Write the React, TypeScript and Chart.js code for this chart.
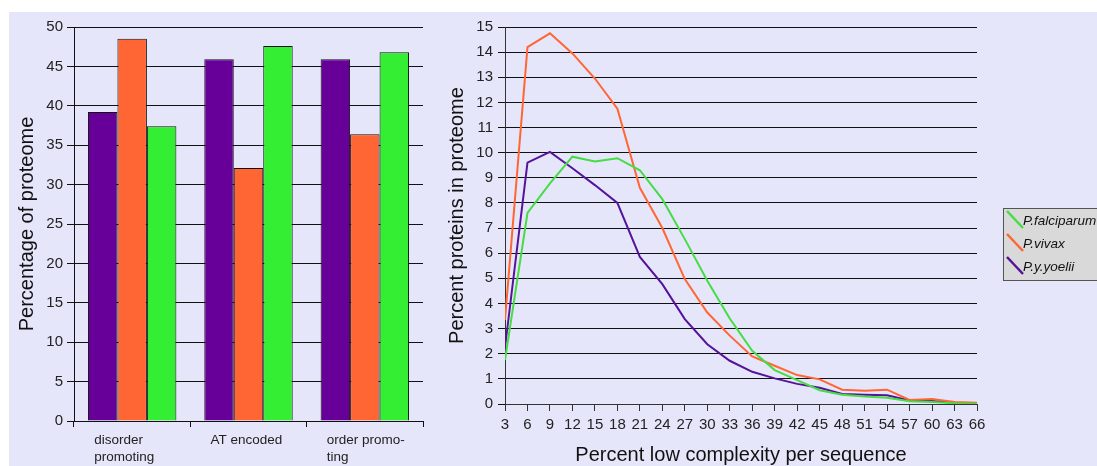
import React, { useEffect, useRef } from "react";
import { Chart, registerables } from "chart.js";

Chart.register(...registerables);

// ---- Composition of the proteome (left panel) ----
const groupLabels = [["disorder", "promoting"], ["AT encoded"], ["order promo-", "ting"]];
const yoeliiShare = [39.2, 45.9, 45.9];
const vivaxShare = [48.5, 32.1, 36.4];
const falciparumShare = [37.4, 47.6, 46.8];

// ---- Low complexity distribution (right panel) ----
const complexityPercent = [3, 6, 9, 12, 15, 18, 21, 24, 27, 30, 33, 36, 39, 42, 45, 48, 51, 54, 57, 60, 63, 66];
const falciparumProteins = [1.75, 7.6, 8.78, 9.84, 9.65, 9.78, 9.3, 8.15, 6.56, 4.9, 3.4, 2.12, 1.35, 0.95, 0.55, 0.37, 0.3, 0.25, 0.11, 0.08, 0.03, 0.01];
const vivaxProteins = [3.35, 14.2, 14.75, 13.95, 12.95, 11.75, 8.6, 7.0, 4.97, 3.64, 2.72, 1.89, 1.52, 1.15, 0.98, 0.57, 0.53, 0.57, 0.16, 0.2, 0.08, 0.05];
const yoeliiProteins = [2.25, 9.6, 10.03, 9.38, 8.71, 8.0, 5.85, 4.77, 3.38, 2.38, 1.72, 1.28, 1.02, 0.8, 0.65, 0.4, 0.37, 0.35, 0.14, 0.12, 0.05, 0.0];

const speciesNames = ["P.falciparum", "P.vivax", "P.y.yoelii"];

const PURPLE_BAR = "#660099";
const ORANGE_BAR = "#ff6633";
const GREEN_BAR = "#33ee33";
const GREEN_LINE = "#44dd44";
const ORANGE_LINE = "#ff6633";
const PURPLE_LINE = "#55139a";
const PANEL_BG = "#e6e6fa";
const FONT = "'Liberation Sans', Arial, Helvetica, sans-serif";

Chart.defaults.font.family = FONT;
Chart.defaults.color = "#222";

// Boxed legend with diagonal line swatches, drawn on the right side of the line chart
const sideLegend = {
  id: "sideLegend",
  afterDraw(chart: any) {
    const ctx = chart.ctx as CanvasRenderingContext2D;
    const x0 = 563;
    const y0 = 196;
    const w = 130;
    const h = 72;
    ctx.save();
    ctx.fillStyle = "#d9d9d9";
    ctx.fillRect(x0, y0, w, h);
    ctx.strokeStyle = "#555";
    ctx.lineWidth = 1;
    ctx.strokeRect(x0 + 0.5, y0 + 0.5, w, h);
    chart.data.datasets.forEach((ds: any, i: number) => {
      const cy = y0 + 11 + i * 23;
      ctx.strokeStyle = ds.borderColor;
      ctx.lineWidth = 2.5;
      ctx.beginPath();
      ctx.moveTo(x0 + 4, cy - 8);
      ctx.lineTo(x0 + 20, cy + 9);
      ctx.stroke();
      ctx.fillStyle = "#111";
      ctx.font = `italic 13.5px ${FONT}`;
      ctx.textBaseline = "middle";
      ctx.textAlign = "left";
      ctx.fillText(ds.label, x0 + 20, cy + 2);
    });
    ctx.restore();
  },
};

function ProteomeBars() {
  const ref = useRef<HTMLCanvasElement>(null);
  useEffect(() => {
    const chart = new Chart(ref.current!, {
      type: "bar",
      data: {
        labels: groupLabels,
        datasets: [
          { label: speciesNames[2], data: yoeliiShare, backgroundColor: PURPLE_BAR, borderColor: "#111", borderWidth: 1 },
          { label: speciesNames[1], data: vivaxShare, backgroundColor: ORANGE_BAR, borderColor: "#111", borderWidth: 1 },
          { label: speciesNames[0], data: falciparumShare, backgroundColor: GREEN_BAR, borderColor: "#111", borderWidth: 1 },
        ],
      },
      options: {
        responsive: false,
        animation: false,
        layout: { padding: { left: 0, top: 15, right: 17, bottom: 0 } },
        datasets: { bar: { categoryPercentage: 0.76, barPercentage: 1 } },
        plugins: { legend: { display: false }, tooltip: { enabled: false } },
        scales: {
          x: {
            offset: true,
            grid: { offset: true, drawOnChartArea: false, drawTicks: true, tickLength: 6, color: "#111" },
            border: { color: "#111" },
            ticks: {
              align: "start",
              labelOffset: -38,
              padding: 5,
              color: "#222",
              font: { size: 13.5, lineHeight: 1.25 },
              maxRotation: 0,
              autoSkip: false,
            },
            afterFit: (s: any) => {
              s.height = 45;
              s.paddingLeft = 0;
              s.paddingRight = 0;
            },
          },
          y: {
            min: 0,
            max: 50,
            ticks: { stepSize: 5, padding: 4, color: "#222", font: { size: 15 } },
            grid: { color: "#111", tickLength: 7 },
            border: { color: "#111" },
            title: {
              display: true,
              text: "Percentage of proteome",
              color: "#111",
              font: { size: 20 },
              padding: { top: 6, bottom: 0 },
            },
            afterFit: (s: any) => { s.width = 65; },
          },
        },
      },
    });
    return () => chart.destroy();
  }, []);
  return <canvas ref={ref} width={431} height={454} style={{ position: "absolute", left: 0, top: 0, display: "block" }} />;
}

function ComplexityLines() {
  const ref = useRef<HTMLCanvasElement>(null);
  useEffect(() => {
    const toPoints = (vals: number[]) => complexityPercent.map((x, i) => ({ x, y: vals[i] }));
    const chart = new Chart(ref.current!, {
      type: "line",
      data: {
        datasets: [
          { label: speciesNames[0], data: toPoints(falciparumProteins), borderColor: GREEN_LINE, borderWidth: 2, pointRadius: 0, tension: 0 },
          { label: speciesNames[1], data: toPoints(vivaxProteins), borderColor: ORANGE_LINE, borderWidth: 2, pointRadius: 0, tension: 0 },
          { label: speciesNames[2], data: toPoints(yoeliiProteins), borderColor: PURPLE_LINE, borderWidth: 2, pointRadius: 0, tension: 0 },
        ],
      },
      options: {
        responsive: false,
        animation: false,
        layout: { padding: { left: 0, top: 15, right: 120, bottom: 0 } },
        plugins: { legend: { display: false }, tooltip: { enabled: false } },
        scales: {
          x: {
            type: "linear",
            min: 3,
            max: 66,
            ticks: {
              stepSize: 3,
              padding: 5,
              color: "#222",
              font: { size: 15 },
              maxRotation: 0,
              autoSkip: false,
            },
            grid: { drawOnChartArea: false, drawTicks: true, tickLength: 7, color: "#333" },
            border: { color: "#333" },
            title: {
              display: true,
              text: "Percent low complexity per sequence",
              color: "#111",
              font: { size: 20, lineHeight: 1.2 },
              padding: { top: 0, bottom: -1 },
            },
            afterFit: (s: any) => {
              s.height = 62;
              s.paddingLeft = 0;
              s.paddingRight = 0;
            },
          },
          y: {
            min: 0,
            max: 15,
            ticks: { stepSize: 1, padding: 5, color: "#222", font: { size: 15 } },
            grid: { color: "#111", tickLength: 7 },
            border: { color: "#333" },
            title: {
              display: true,
              text: "Percent proteins in proteome",
              color: "#111",
              font: { size: 20 },
              padding: { top: 5, bottom: 0 },
            },
            afterFit: (s: any) => { s.width = 65; },
          },
        },
      },
      plugins: [sideLegend],
    });
    return () => chart.destroy();
  }, []);
  return <canvas ref={ref} width={657} height={454} style={{ position: "absolute", left: 431, top: 0, display: "block" }} />;
}

export default function App() {
  return (
    <div
      style={{
        position: "absolute",
        left: 9,
        top: 12,
        width: 1088,
        height: 454,
        background: PANEL_BG,
        overflow: "hidden",
      }}
    >
      <ProteomeBars />
      <ComplexityLines />
    </div>
  );
}
